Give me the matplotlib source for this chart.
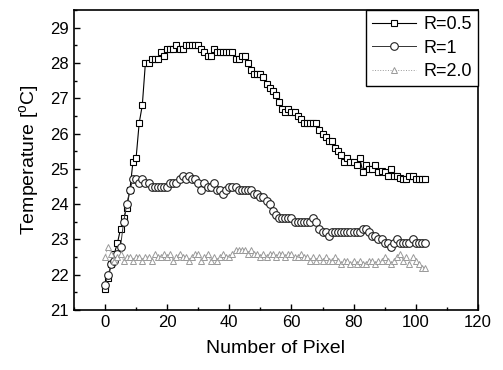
import matplotlib
matplotlib.use("Agg")
import matplotlib.pyplot as plt
from matplotlib.ticker import MultipleLocator

plt.rcParams["font.family"] = ["Liberation Sans", "DejaVu Sans"]
plt.rcParams["mathtext.fontset"] = "custom"
plt.rcParams["mathtext.rm"] = "Liberation Sans"

# ===== Data =====
pixel = list(range(104))

temp_r05 = [
    21.6, 21.9, 22.3, 22.6, 22.9, 23.3, 23.6, 23.9, 24.4, 25.2,
    25.3, 26.3, 26.8, 28.0, 28.0, 28.1, 28.1, 28.1, 28.3, 28.2,
    28.4, 28.4, 28.4, 28.5, 28.4, 28.4, 28.5, 28.5, 28.5, 28.5,
    28.5, 28.4, 28.3, 28.2, 28.2, 28.4, 28.3, 28.3, 28.3, 28.3,
    28.3, 28.3, 28.1, 28.1, 28.2, 28.2, 28.0, 27.8, 27.7, 27.7,
    27.7, 27.6, 27.4, 27.3, 27.2, 27.1, 26.9, 26.7, 26.6, 26.7,
    26.6, 26.6, 26.5, 26.4, 26.3, 26.3, 26.3, 26.3, 26.3, 26.1,
    26.0, 25.9, 25.8, 25.8, 25.6, 25.5, 25.4, 25.2, 25.3, 25.2,
    25.2, 25.1, 25.3, 24.9, 25.1, 25.0, 25.0, 25.1, 24.9, 24.95,
    24.9, 24.8, 25.0, 24.8, 24.8, 24.75, 24.7, 24.7, 24.8, 24.8,
    24.7, 24.7, 24.7, 24.7,
]

temp_r1 = [
    21.7, 22.0, 22.3, 22.4, 22.6, 22.8, 23.5, 24.0, 24.4, 24.7,
    24.7, 24.6, 24.7, 24.6, 24.6, 24.5, 24.5, 24.5, 24.5, 24.5,
    24.5, 24.6, 24.6, 24.6, 24.7, 24.8, 24.7, 24.8, 24.7, 24.7,
    24.6, 24.4, 24.6, 24.5, 24.5, 24.6, 24.4, 24.4, 24.3, 24.4,
    24.5, 24.5, 24.5, 24.4, 24.4, 24.4, 24.4, 24.4, 24.3, 24.3,
    24.2, 24.2, 24.1, 24.0, 23.8, 23.7, 23.6, 23.6, 23.6, 23.6,
    23.6, 23.5, 23.5, 23.5, 23.5, 23.5, 23.5, 23.6, 23.5, 23.3,
    23.2, 23.2, 23.1, 23.2, 23.2, 23.2, 23.2, 23.2, 23.2, 23.2,
    23.2, 23.2, 23.2, 23.3, 23.3, 23.2, 23.1, 23.1, 23.0, 23.0,
    22.9, 22.9, 22.8, 22.9, 23.0, 22.9, 22.9, 22.9, 22.9, 23.0,
    22.9, 22.9, 22.9, 22.9,
]

temp_r2 = [
    22.5, 22.8, 22.6, 22.4, 22.5, 22.6, 22.4, 22.5, 22.5, 22.4,
    22.5, 22.5, 22.4, 22.5, 22.5, 22.4, 22.6, 22.5, 22.5, 22.6,
    22.5, 22.6, 22.4, 22.5, 22.6, 22.5, 22.5, 22.4, 22.5, 22.6,
    22.6, 22.4, 22.5, 22.6, 22.4, 22.5, 22.4, 22.5, 22.6, 22.5,
    22.5, 22.6, 22.7, 22.7, 22.7, 22.7, 22.6, 22.7, 22.6, 22.6,
    22.5, 22.6, 22.5, 22.6, 22.6, 22.5, 22.6, 22.6, 22.5, 22.6,
    22.6, 22.5, 22.5, 22.6, 22.5, 22.5, 22.4, 22.5, 22.4, 22.5,
    22.4, 22.5, 22.4, 22.4, 22.5, 22.4, 22.3, 22.4, 22.4, 22.3,
    22.4, 22.3, 22.4, 22.3, 22.3, 22.4, 22.4, 22.3, 22.4, 22.4,
    22.5, 22.4, 22.3, 22.4, 22.5, 22.6, 22.4, 22.5, 22.3, 22.5,
    22.4, 22.3, 22.2, 22.2,
]

labels = ["R=0.5", "R=1", "R=2.0"]

# ===== Figure =====
fig = plt.figure(figsize=(5.03, 3.70), dpi=100)
ax = fig.add_axes([0.147, 0.162, 0.803, 0.811])

ax.plot(pixel, temp_r05, color="black", linewidth=0.8, marker="s",
        markersize=5, markerfacecolor="white", markeredgecolor="black",
        markeredgewidth=0.8, label=labels[0])
ax.plot(pixel, temp_r1, color="#333333", linewidth=0.7, marker="o",
        markersize=5.5, markerfacecolor="white", markeredgecolor="#222222",
        markeredgewidth=0.8, label=labels[1])
ax.plot(pixel, temp_r2, color="#999999", linewidth=0.7, linestyle=":",
        marker="^", markersize=5, markerfacecolor="white",
        markeredgecolor="#999999", markeredgewidth=0.7, label=labels[2])

ax.set_xlim(-10, 120)
ax.set_ylim(21, 29.5)
ax.xaxis.set_major_locator(MultipleLocator(20))
ax.xaxis.set_minor_locator(MultipleLocator(10))
ax.yaxis.set_major_locator(MultipleLocator(1))
ax.yaxis.set_minor_locator(MultipleLocator(0.5))
ax.tick_params(which="both", direction="in", top=False, right=False,
               labelsize=12, width=1)
ax.tick_params(which="major", length=4)
ax.tick_params(which="minor", length=2.5)

for side in ["left", "bottom", "top", "right"]:
    ax.spines[side].set_linewidth(1.2)

ax.set_xlabel("Number of Pixel", fontsize=14, labelpad=7)
ax.set_ylabel(r"Temperature [$^{\rm o}$C]", fontsize=14, labelpad=6)

leg = ax.legend(loc="upper right", borderaxespad=0, fontsize=13,
                fancybox=False, edgecolor="black", framealpha=1,
                handlelength=2.4, handletextpad=0.4, labelspacing=0.35,
                borderpad=0.35)
leg.get_frame().set_linewidth(1)

fig.savefig("out.png", dpi=100)
